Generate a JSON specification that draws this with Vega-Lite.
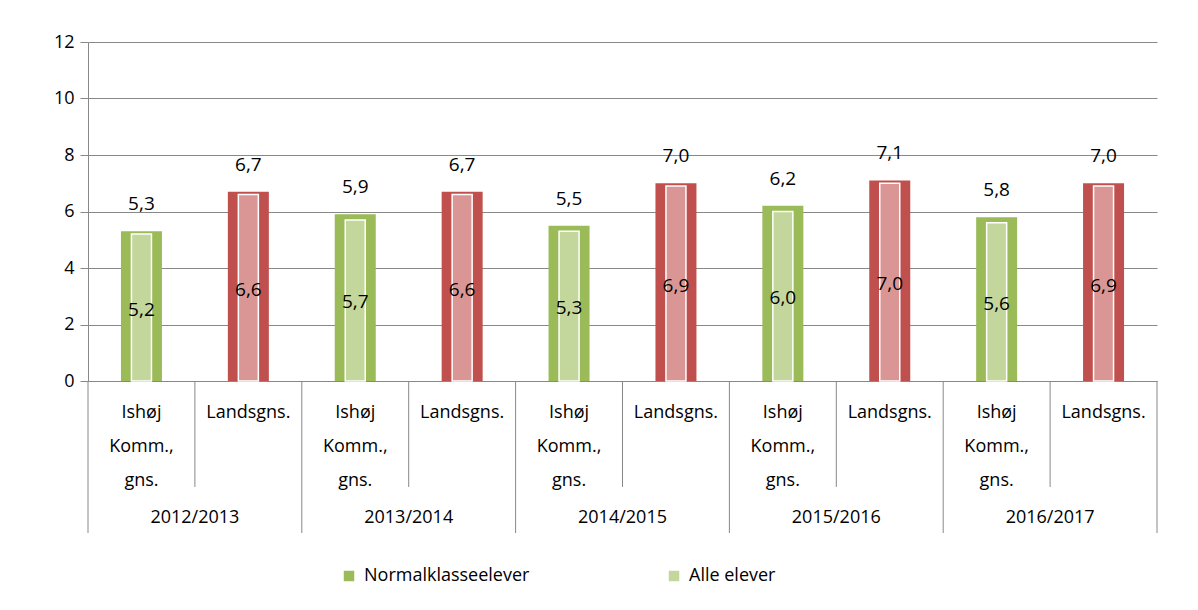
{
  "$schema": "https://vega.github.io/schema/vega-lite/v6.json",
  "width": 1069,
  "height": 339,
  "padding": {"left": 53, "top": 33, "right": 5, "bottom": 5},
  "background": "white",
  "config": {"font": "Open Sans", "view": {"stroke": null}},
  "data": {
    "values": [
      {"year": "2012/2013", "group": "Ishøj", "serie": "Normalklasseelever", "value": 5.3},
      {"year": "2012/2013", "group": "Ishøj", "serie": "Alle elever", "value": 5.2},
      {"year": "2012/2013", "group": "Landsgns.", "serie": "Normalklasseelever", "value": 6.7},
      {"year": "2012/2013", "group": "Landsgns.", "serie": "Alle elever", "value": 6.6},
      {"year": "2013/2014", "group": "Ishøj", "serie": "Normalklasseelever", "value": 5.9},
      {"year": "2013/2014", "group": "Ishøj", "serie": "Alle elever", "value": 5.7},
      {"year": "2013/2014", "group": "Landsgns.", "serie": "Normalklasseelever", "value": 6.7},
      {"year": "2013/2014", "group": "Landsgns.", "serie": "Alle elever", "value": 6.6},
      {"year": "2014/2015", "group": "Ishøj", "serie": "Normalklasseelever", "value": 5.5},
      {"year": "2014/2015", "group": "Ishøj", "serie": "Alle elever", "value": 5.3},
      {"year": "2014/2015", "group": "Landsgns.", "serie": "Normalklasseelever", "value": 7.0},
      {"year": "2014/2015", "group": "Landsgns.", "serie": "Alle elever", "value": 6.9},
      {"year": "2015/2016", "group": "Ishøj", "serie": "Normalklasseelever", "value": 6.2},
      {"year": "2015/2016", "group": "Ishøj", "serie": "Alle elever", "value": 6.0},
      {"year": "2015/2016", "group": "Landsgns.", "serie": "Normalklasseelever", "value": 7.1},
      {"year": "2015/2016", "group": "Landsgns.", "serie": "Alle elever", "value": 7.0},
      {"year": "2016/2017", "group": "Ishøj", "serie": "Normalklasseelever", "value": 5.8},
      {"year": "2016/2017", "group": "Ishøj", "serie": "Alle elever", "value": 5.6},
      {"year": "2016/2017", "group": "Landsgns.", "serie": "Normalklasseelever", "value": 7.0},
      {"year": "2016/2017", "group": "Landsgns.", "serie": "Alle elever", "value": 6.9}
    ]
  },
  "transform": [
    {"calculate": "datum.year + '|' + datum.group", "as": "cat"},
    {"calculate": "datum.group === 'Ishøj' ? datum.serie : datum.serie + ' (Landsgns.)'", "as": "ck"},
    {"calculate": "datum.value / 2", "as": "mid"},
    {"calculate": "replace(format(datum.value, '.1f'), '.', ',')", "as": "lbl"}
  ],
  "encoding": {
    "x": {
      "field": "cat", "type": "nominal", "sort": null,
      "scale": {"paddingInner": 0, "paddingOuter": 0},
      "axis": {
        "title": null, "labelAngle": 0,
        "labelExpr": "indexof(datum.value,'Ishøj')>=0 ? ['Ishøj','Komm.,','gns.'] : 'Landsgns.'",
        "labelFontSize": 18, "labelLineHeight": 34, "labelBaseline": "top", "labelPadding": 22,
        "labelColor": "#000000",
        "domain": true, "domainColor": "#888888",
        "ticks": false
      }
    }
  },
  "layer": [
    {
      "transform": [{"filter": "datum.serie === 'Normalklasseelever'"}],
      "mark": {"type": "bar", "width": 41},
      "encoding": {
        "y": {
          "field": "value", "type": "quantitative",
          "scale": {"domain": [0, 12], "nice": false},
          "axis": {
            "title": null, "values": [0, 2, 4, 6, 8, 10, 12],
            "grid": true, "gridColor": "#888888",
            "domainColor": "#888888", "tickSize": 8, "tickColor": "#888888",
            "labelFontSize": 18, "labelColor": "#000000", "labelPadding": 6
          }
        },
        "color": {
          "field": "ck", "type": "nominal",
          "scale": {
            "domain": ["Normalklasseelever", "Alle elever", "Normalklasseelever (Landsgns.)", "Alle elever (Landsgns.)"],
            "range": ["#9BBB59", "#C3D69B", "#C0504D", "#D99694"]
          },
          "legend": {
            "title": null, "values": ["Normalklasseelever", "Alle elever"],
            "orient": "none", "legendX": 252, "legendY": 525, "direction": "horizontal",
            "symbolType": "square", "symbolSize": 110, "symbolStrokeWidth": 0,
            "labelFontSize": 18, "labelColor": "#000000", "labelOffset": 6, "labelLimit": 400,
            "columnPadding": 135
          }
        }
      }
    },
    {
      "transform": [{"filter": "datum.serie === 'Alle elever'"}],
      "mark": {"type": "bar", "width": 20, "stroke": "#ffffff", "strokeWidth": 1.5},
      "encoding": {
        "y": {"field": "value", "type": "quantitative"},
        "color": {"field": "ck", "type": "nominal"}
      }
    },
    {
      "transform": [{"filter": "datum.serie === 'Normalklasseelever'"}],
      "mark": {"type": "text", "baseline": "bottom", "dy": -17, "fontSize": 19, "color": "#000000"},
      "encoding": {
        "y": {"field": "value", "type": "quantitative"},
        "text": {"field": "lbl", "type": "nominal"}
      }
    },
    {
      "transform": [{"filter": "datum.serie === 'Alle elever'"}],
      "mark": {"type": "text", "baseline": "middle", "fontSize": 19, "color": "#000000", "dy": 2},
      "encoding": {
        "y": {"field": "mid", "type": "quantitative"},
        "text": {"field": "lbl", "type": "nominal"}
      }
    },
    {
      "transform": [{"filter": "datum.serie === 'Normalklasseelever' && datum.group === 'Ishøj'"}],
      "mark": {"type": "rule", "color": "#888888", "strokeWidth": 1, "xOffset": -53.45},
      "encoding": {
        "y": {"datum": 0},
        "y2": {"datum": -5.38}
      }
    },
    {
      "transform": [{"filter": "datum.serie === 'Normalklasseelever' && datum.group === 'Landsgns.'"}],
      "mark": {"type": "rule", "color": "#888888", "strokeWidth": 1, "xOffset": -53.45},
      "encoding": {
        "y": {"datum": 0},
        "y2": {"datum": -3.75}
      }
    },
    {
      "transform": [{"filter": "datum.serie === 'Normalklasseelever' && datum.cat === '2016/2017|Landsgns.'"}],
      "mark": {"type": "rule", "color": "#888888", "strokeWidth": 1, "xOffset": 53.45},
      "encoding": {
        "y": {"datum": 0},
        "y2": {"datum": -5.38}
      }
    },
    {
      "transform": [{"filter": "datum.serie === 'Normalklasseelever' && datum.group === 'Ishøj'"}],
      "mark": {"type": "text", "baseline": "middle", "fontSize": 18, "color": "#000000", "dx": 53.45},
      "encoding": {
        "y": {"datum": -4.85},
        "text": {"field": "year", "type": "nominal"}
      }
    }
  ]
}
